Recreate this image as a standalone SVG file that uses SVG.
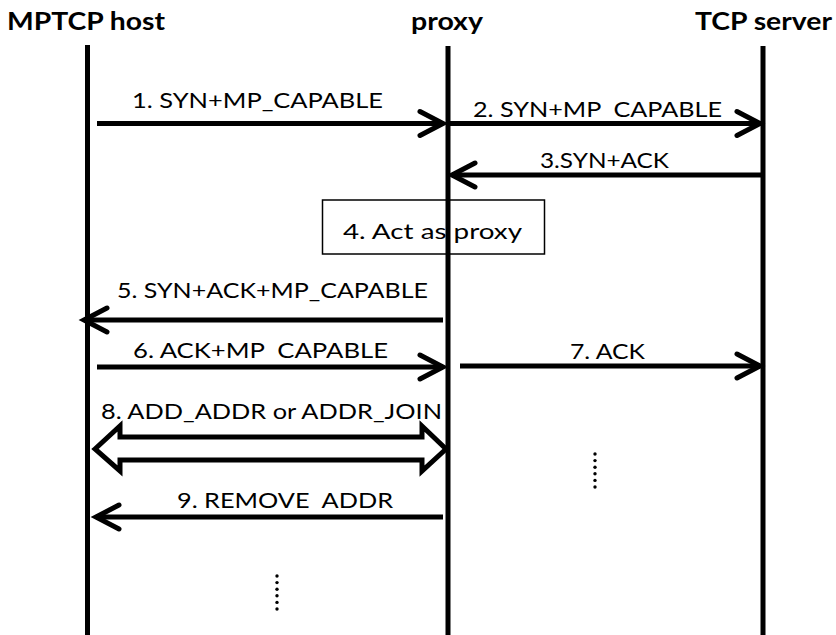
<svg xmlns="http://www.w3.org/2000/svg" width="836" height="635" viewBox="0 0 836 635">
<style>
.title{font-family:Lato,"Liberation Sans",Arial,sans-serif;font-weight:bold;font-size:25px;fill:#000}
.lbl{font-family:Lato,"Liberation Sans",Arial,sans-serif;font-size:22px;fill:#000;white-space:pre}
.life{stroke:#000;stroke-width:5;fill:none}
.msg{stroke:#000;stroke-width:5;fill:none}
.head{stroke:#000;stroke-width:5;fill:none;stroke-linecap:round;stroke-linejoin:miter}
.box{fill:#fff;stroke:#000;stroke-width:1.5}
.dot{fill:#000}
</style>
<defs>
<marker id="arr" markerUnits="userSpaceOnUse" markerWidth="40" markerHeight="40" refX="24" refY="13" orient="auto" overflow="visible">
<path class="head" d="M1,1 L24,13 L1,25"/>
</marker>
</defs>
<rect width="836" height="635" fill="#fff"/>
<g id="box-act-as-proxy">
<rect class="box" x="322.5" y="200" width="222" height="54"/>
<text class="lbl" x="343" y="239" font-size="25" textLength="179" lengthAdjust="spacingAndGlyphs">4. Act as proxy</text>
</g>
<g id="node-mptcp-host">
<text class="title" x="7" y="30" textLength="158" lengthAdjust="spacingAndGlyphs">MPTCP host</text>
<line class="life" x1="87.5" y1="45" x2="87.5" y2="635"/>
</g>
<g id="node-proxy">
<text class="title" x="411" y="30" textLength="72" lengthAdjust="spacingAndGlyphs">proxy</text>
<line class="life" x1="448" y1="46" x2="448" y2="635"/>
</g>
<g id="node-tcp-server">
<text class="title" x="695" y="30" textLength="137" lengthAdjust="spacingAndGlyphs">TCP server</text>
<line class="life" x1="763" y1="46" x2="763" y2="635"/>
</g>
<g id="connectors">
<text class="lbl" x="132" y="108" font-size="25" textLength="251" lengthAdjust="spacingAndGlyphs">1. SYN+MP_CAPABLE</text>
<line class="msg" x1="97" y1="123.5" x2="443" y2="123.5" marker-end="url(#arr)"/>
<text class="lbl" x="473" y="117" font-size="24" textLength="249" lengthAdjust="spacingAndGlyphs">2. SYN+MP  CAPABLE</text>
<line class="msg" x1="449" y1="123.5" x2="760" y2="123.5" marker-end="url(#arr)"/>
<text class="lbl" x="540" y="168" textLength="129" lengthAdjust="spacingAndGlyphs">3.SYN+ACK</text>
<line class="msg" x1="763" y1="175" x2="452" y2="175" marker-end="url(#arr)"/>
<text class="lbl" x="117" y="298" textLength="311" lengthAdjust="spacingAndGlyphs">5. SYN+ACK+MP_CAPABLE</text>
<line class="msg" x1="443" y1="320" x2="84" y2="320" marker-end="url(#arr)"/>
<text class="lbl" x="133" y="358" textLength="255" lengthAdjust="spacingAndGlyphs">6. ACK+MP  CAPABLE</text>
<line class="msg" x1="97" y1="367" x2="443" y2="367" marker-end="url(#arr)"/>
<text class="lbl" x="570" y="359" textLength="75" lengthAdjust="spacingAndGlyphs">7. ACK</text>
<line class="msg" x1="460" y1="366" x2="760" y2="366" marker-end="url(#arr)"/>
<text class="lbl" x="101" y="419" font-size="23" textLength="341" lengthAdjust="spacingAndGlyphs">8. ADD_ADDR or ADDR_JOIN</text>
<path class="head" d="M95,449 L120,426 L120,437 L422,437 L422,426 L446,449 L422,471 L422,460 L120,460 L120,471 Z" stroke-linejoin="round"/>
<text class="lbl" x="177" y="508" textLength="216" lengthAdjust="spacingAndGlyphs">9. REMOVE  ADDR</text>
<line class="msg" x1="443" y1="517" x2="96" y2="517" marker-end="url(#arr)"/>
</g>
<g id="ellipsis-right">
<circle class="dot" cx="595" cy="454" r="1.7"/>
<circle class="dot" cx="595" cy="460.6" r="1.7"/>
<circle class="dot" cx="595" cy="467.2" r="1.7"/>
<circle class="dot" cx="595" cy="473.8" r="1.7"/>
<circle class="dot" cx="595" cy="480.4" r="1.7"/>
<circle class="dot" cx="595" cy="487" r="1.7"/>
</g>
<g id="ellipsis-left">
<circle class="dot" cx="277" cy="576" r="1.7"/>
<circle class="dot" cx="277" cy="582.6" r="1.7"/>
<circle class="dot" cx="277" cy="589.2" r="1.7"/>
<circle class="dot" cx="277" cy="595.8" r="1.7"/>
<circle class="dot" cx="277" cy="602.4" r="1.7"/>
<circle class="dot" cx="277" cy="609" r="1.7"/>
</g>
</svg>
